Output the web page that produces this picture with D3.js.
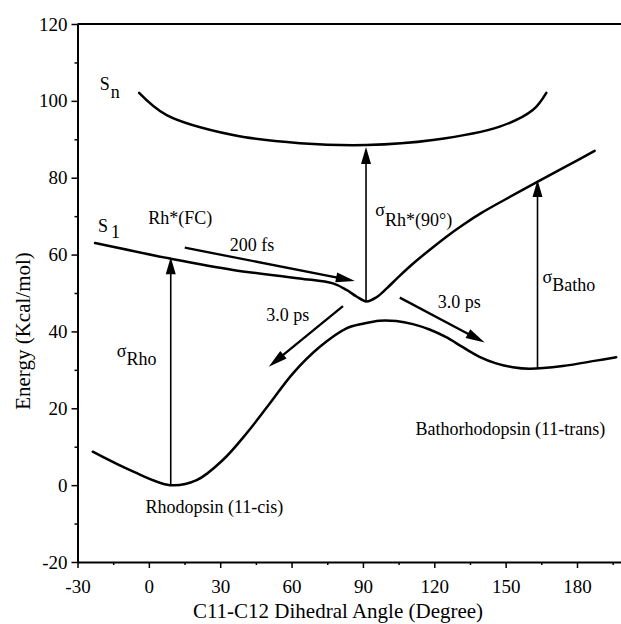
<!DOCTYPE html>
<html>
<head>
<meta charset="utf-8">
<script src="https://cdn.jsdelivr.net/npm/d3@7"></script>
<style>
body { margin: 0; background: #fff; }
svg text { font-family: "Liberation Serif", "Times New Roman", serif; fill: #000; }
</style>
</head>
<body>
<svg id="chart" width="621" height="624"></svg>
<script>
// potential energy curves (angle in degree, energy in kcal/mol)
var S0Angle = [-23.6, -7.9, 8.9, 20.1, 31.2, 41.1, 50.9, 60.6, 71.9, 83.1, 90.0, 97.0, 104.0, 111.0, 118.0, 125.0, 132.0, 139.0, 146.0, 153.0, 160.0, 174.0, 188.0, 196.5];
var S0Energy = [8.7, 3.9, 0.0, 1.3, 6.6, 13.5, 21.3, 29.1, 36.0, 40.8, 42.0, 42.8, 42.7, 41.9, 40.5, 38.5, 35.9, 33.4, 31.7, 30.7, 30.3, 31.0, 32.4, 33.3];

var S1Angle = [-22.6, 10.2, 35.4, 63.4, 77.4, 83.1, 87.3, 91.5, 95.7, 100.0, 105.0, 111.0, 118.0, 125.0, 132.0, 140.0, 150.0, 163.5, 175.0, 187.4];
var S1Energy = [63.0, 58.8, 56.0, 53.8, 52.5, 50.8, 49.1, 47.8, 48.9, 51.2, 54.2, 57.6, 61.2, 64.6, 67.7, 70.9, 74.4, 79.0, 82.8, 87.0];

var SnAngle = [-4.1, 7.5, 35.4, 63.5, 91.5, 119.4, 147.5, 161.4, 167.1];
var SnEnergy = [102.1, 96.3, 91.1, 89.0, 88.5, 89.8, 93.3, 97.6, 102.1];

// arrows: [angle, energy] start and tip
var ArrowFrom = [[9.2, 0.0], [91.3, 47.8], [163.4, 30.4], [15.1, 61.8], [81.6, 46.6], [105.5, 48.8]];
var ArrowTo = [[9.2, 59.3], [91.3, 88.0], [163.4, 79.4], [86.6, 53.1], [50.4, 30.8], [141.2, 37.1]];
var ArrowVertical = [true, true, true, false, false, false];

// labels
var LabelMain = ["S", "S", "Rh*(FC)", "200 fs", "3.0 ps", "3.0 ps", "\u03c3", "\u03c3", "\u03c3", "Rhodopsin (11-cis)", "Bathorhodopsin (11-trans)"];
var LabelSub = ["n", "1", "", "", "", "", "Rh*(90\u00b0)", "Batho", "Rho", "", ""];
var LabelX = [-20.6, -21.4, -0.3, 34.0, 49.4, 121.5, 95.2, 165.5, -13.5, -1.4, 112.1];
var LabelY = [102.8, 65.9, 67.9, 60.9, 42.6, 46.0, 70.0, 52.6, 33.4, -7.3, 13.1];

var XMajor = [-30, 0, 30, 60, 90, 120, 150, 180];
var XMinor = [-15, 15, 45, 75, 105, 135, 165, 195];
var YMajor = [-20, 0, 20, 40, 60, 80, 100, 120];
var YMinor = [-10, 10, 30, 50, 70, 90, 110];

var svg = d3.select("#chart");
var x = d3.scaleLinear().domain([-30, 198.5]).range([77.5, 621]);
var y = d3.scaleLinear().domain([-20, 120]).range([562, 24]);

function DrawAxes() {
    var gx = svg.append("g").attr("transform", "translate(0," + y(-20) + ")");
    gx.call(d3.axisBottom(x).tickValues(XMajor).tickSize(6).tickSizeOuter(0)
        .tickFormat(function(d){ return String(d); }));
    gx.selectAll(".tick text").attr("y", 31).attr("dy", null).style("font-size", "19px");
    var gxm = svg.append("g").attr("transform", "translate(0," + y(-20) + ")");
    gxm.call(d3.axisBottom(x).tickValues(XMinor).tickSize(3).tickSizeOuter(0).tickFormat(""));
    gxm.select(".domain").remove();

    var gy = svg.append("g").attr("transform", "translate(" + x(-30) + ",0)");
    gy.call(d3.axisLeft(y).tickValues(YMajor).tickSize(6).tickSizeOuter(0)
        .tickFormat(function(d){ return String(d); }));
    gy.selectAll(".tick text").attr("x", -10).style("font-size", "19px");
    var gym = svg.append("g").attr("transform", "translate(" + x(-30) + ",0)");
    gym.call(d3.axisLeft(y).tickValues(YMinor).tickSize(3).tickSizeOuter(0).tickFormat(""));
    gym.select(".domain").remove();

    svg.selectAll(".domain").attr("stroke-width", 2);
    svg.selectAll(".tick line").attr("stroke-width", 1.5);
    svg.selectAll(".tick text").attr("font-family", null);

    // top frame line
    svg.append("line")
        .attr("x1", x(-30)).attr("x2", x(198.5))
        .attr("y1", y(120)).attr("y2", y(120))
        .attr("stroke", "#000").attr("stroke-width", 2);

    svg.append("text")
        .attr("x", 338).attr("y", 618)
        .attr("text-anchor", "middle")
        .style("font-size", "21px")
        .text("C11-C12 Dihedral Angle (Degree)");

    svg.append("text")
        .attr("transform", "translate(30,331) rotate(-90)")
        .attr("text-anchor", "middle")
        .style("font-size", "21px")
        .text("Energy (Kcal/mol)");
}

function DrawCurve(Angles, Energies) {
    var pts = [];
    for (var i = 0; i < Angles.length; i++) {
        pts.push([Angles[i], Energies[i]]);
    }
    var line = d3.line()
        .x(function(d){ return x(d[0]); })
        .y(function(d){ return y(d[1]); })
        .curve(d3.curveCatmullRom.alpha(0.5));
    svg.append("path")
        .datum(pts)
        .attr("d", line)
        .attr("fill", "none")
        .attr("stroke", "#000")
        .attr("stroke-width", 2.5)
        .attr("stroke-linecap", "round");
}

function DrawArrow(From, To, Vertical) {
    var x0 = x(From[0]), y0 = y(From[1]);
    var x1 = x(To[0]), y1 = y(To[1]);
    var len = Math.sqrt((x1 - x0) * (x1 - x0) + (y1 - y0) * (y1 - y0));
    var ux = (x1 - x0) / len, uy = (y1 - y0) / len;
    var headLen = Vertical ? 17 : 19;
    var headHalf = 5;
    svg.append("line")
        .attr("x1", x0).attr("y1", y0)
        .attr("x2", x1 - ux * 10).attr("y2", y1 - uy * 10)
        .attr("stroke", "#000")
        .attr("stroke-width", Vertical ? 1.6 : 2.3);
    var bx = x1 - ux * headLen, by = y1 - uy * headLen;
    var head = [[x1, y1], [bx - uy * headHalf, by + ux * headHalf], [bx + uy * headHalf, by - ux * headHalf]];
    svg.append("path")
        .attr("d", "M" + head.join("L") + "Z")
        .attr("fill", "#000");
}

function DrawLabels() {
    for (var i = 0; i < LabelMain.length; i++) {
        var t = svg.append("text")
            .attr("x", x(LabelX[i]))
            .attr("y", y(LabelY[i]))
            .style("font-size", "18px");
        t.append("tspan").text(LabelMain[i]);
        if (LabelSub[i] != "") {
            var shift = 8, gap = 0;
            if (LabelSub[i] == "1") { shift = 6; gap = 3; }
            if (LabelMain[i] == "S" && LabelSub[i] == "n") { shift = 8; gap = 1; }
            if (LabelSub[i] == "Rh*(90\u00b0)") { shift = 10; }
            t.append("tspan").attr("dy", shift).attr("dx", gap).text(LabelSub[i]);
        }
    }
}

DrawAxes();
DrawCurve(S0Angle, S0Energy);
DrawCurve(S1Angle, S1Energy);
DrawCurve(SnAngle, SnEnergy);
for (var i = 0; i < ArrowFrom.length; i++) {
    DrawArrow(ArrowFrom[i], ArrowTo[i], ArrowVertical[i]);
}
DrawLabels();
</script>
</body>
</html>
